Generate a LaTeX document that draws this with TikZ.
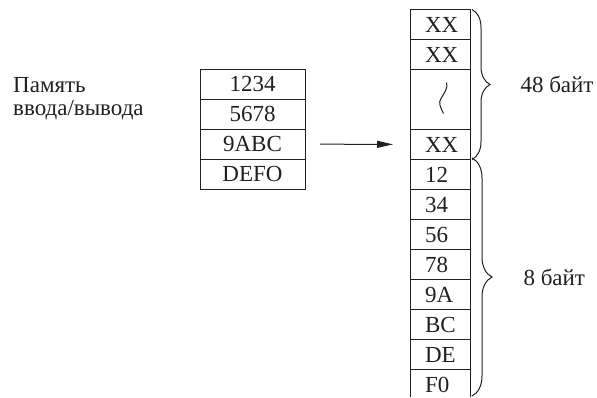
\documentclass[tikz,border=0pt]{standalone}
\usepackage{fontspec}
\setmainfont{Liberation Serif}
\usetikzlibrary{arrows.meta,positioning,decorations.pathreplacing}
\definecolor{memInk}{HTML}{231F20}
\tikzset{
  every picture/.style={font=\fontsize{23}{23}\selectfont, text=memInk},
  mem line/.style={draw=memInk, line width=1pt},
  mem cell/.style={mem line, minimum width=105pt, minimum height=30pt,
    inner sep=0pt, outer sep=0pt, align=center},
  mem byte/.style={mem line, minimum height=30pt, text width=30pt,
    inner xsep=15pt, inner ysep=0pt, outer sep=0pt, align=left},
  mem brace/.style={mem line, decorate,
    decoration={brace, amplitude=#1}},
  mem arrow/.style={-{Triangle[length=16pt,width=7pt]}, mem line,
    shorten <=15pt, shorten >=17pt},
  mem label/.style={inner sep=0pt, anchor=west}
}

\begin{document}
\begin{tikzpicture}[x=1pt,y=-1pt]
  \useasboundingbox (0,0) rectangle (597,397);
  % I/O memory
  \node[mem label, anchor=north west, align=left] (iolabel) at (13,77) {Память\\ввода/вывода};
  \node[mem cell] (io1) at (252.5,84) {1234};
  \node[mem cell, below=0pt of io1] (io2) {5678};
  \node[mem cell, below=0pt of io2] (io3) {9ABC};
  \node[mem cell, below=0pt of io3] (io4) {DEFO};
  % byte column
  \node[mem byte] (xx1) at (440,24.5) {XX};
  \node[mem byte, below=0pt of xx1] (xx2) {XX};
  \node[mem byte, below=0pt of xx2, minimum height=60pt] (xgap) {};
  \node[mem byte, below=0pt of xgap] (xx3) {XX};
  \node[mem byte, below=0pt of xx3] (b1) {12};
  \node[mem byte, below=0pt of b1] (b2) {34};
  \node[mem byte, below=0pt of b2] (b3) {56};
  \node[mem byte, below=0pt of b3] (b4) {78};
  \node[mem byte, below=0pt of b4] (b5) {9A};
  \node[mem byte, below=0pt of b5] (b6) {BC};
  \node[mem byte, below=0pt of b6] (b7) {DE};
  \node[mem byte, below=0pt of b7, draw=none] (b8) {F0};
  \draw[mem line] (b8.north west) -- (b8.north west |- 0,397)
    (b8.north east) -- (b8.north east |- 0,397)
    (b8.north west) -- (b8.north east);
  \draw[mem line] ([shift={(6.5,-17)}]xgap.center) .. controls +(2,5) and +(3,-5) .. ([shift={(1,-1)}]xgap.center)
    .. controls +(-3,4) and +(-3,-6) .. ([shift={(3.5,14)}]xgap.center);
  % transfer
  \draw[mem arrow] (io3) -- (xx3);
  % sizes
  \draw[mem brace=18pt] ([xshift=2pt]xx1.north east) -- ([xshift=2pt]xx3.south east)
    node[mem label, midway, right=48pt] (big) {48 байт};
  \coordinate (bend) at (472,396);
  \draw[mem brace=20pt] ([shift={(2pt,1.5pt)}]b1.north east) -- (bend)
    node[mem label, midway, right=51pt] (small) {8 байт};
\end{tikzpicture}
\end{document}
